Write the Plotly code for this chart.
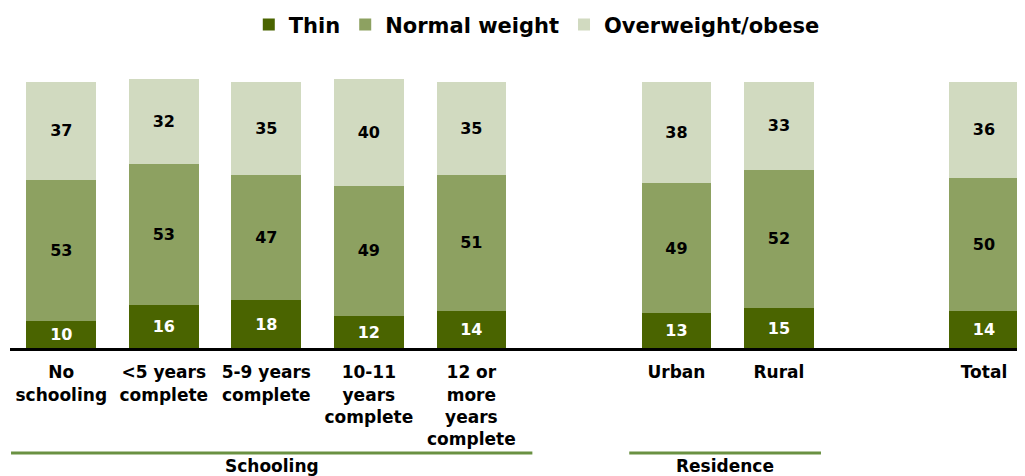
import plotly.graph_objects as go

# categories grouped as in the chart; an empty slot separates groups
groups = ["Schooling", "Residence", ""]
group_categories = [
    ["No<br>schooling", "<5 years<br>complete", "5-9 years<br>complete",
     "10-11<br>years<br>complete", "12 or<br>more<br>years<br>complete"],
    ["Urban", "Rural"],
    ["Total"],
]
thin = [10, 16, 18, 12, 14, 13, 15, 14]
normal = [53, 53, 47, 49, 51, 49, 52, 50]
overweight = [37, 32, 35, 40, 35, 38, 33, 36]

COLORS = {"Thin": "#4a6400", "Normal weight": "#8da161",
          "Overweight/obese": "#d1dac0"}
FONT = "DejaVu Sans, Arial, sans-serif"

# x positions: consecutive within a group, one blank slot between groups
xpos, labels, spans = [], [], []
pos = 0
for g, cats in zip(groups, group_categories):
    start = pos
    for c in cats:
        xpos.append(pos)
        labels.append(c)
        pos += 1
    spans.append((g, start, pos - 1))
    pos += 1

fig = go.Figure()
for name, vals, tcol in [("Thin", thin, "white"),
                         ("Normal weight", normal, "black"),
                         ("Overweight/obese", overweight, "black")]:
    fig.add_trace(go.Bar(
        x=xpos, y=vals, name=name, width=0.68,
        marker=dict(color=COLORS[name], line=dict(width=0)),
        text=vals, texttemplate="%{text}", textposition="inside",
        insidetextanchor="middle", constraintext="none",
        textfont=dict(family=FONT, size=16, color=tcol, weight="bold"),
        hoverinfo="skip"))

# group brackets under the tick labels (left / right overhang per group)
bracket_pad = {"Schooling": (0.49, 0.595), "Residence": (0.46, 0.41)}
line_y, text_y = -0.39, -0.437
for g, a, b in spans:
    if not g:
        continue
    pl, pr = bracket_pad[g]
    x0, x1 = a - pl, b + pr
    fig.add_shape(type="line", xref="x", yref="paper",
                  x0=x0, x1=x1, y0=line_y, y1=line_y,
                  line=dict(color="#6a9142", width=3))
    fig.add_annotation(xref="x", yref="paper", x=(x0 + x1) / 2,
                       y=text_y, text=g, showarrow=False, yanchor="middle",
                       font=dict(family=FONT, size=17, color="black", weight="bold"))

fig.update_layout(
    width=1017, height=468, barmode="stack",
    plot_bgcolor="white", paper_bgcolor="white",
    margin=dict(l=2, r=0, t=71, b=128),
    font=dict(family=FONT, color="black"),
    legend=dict(orientation="h", x=0.519, xanchor="center",
                yref="container", y=0.964, yanchor="middle",
                traceorder="normal",
                font=dict(family=FONT, size=21, weight="bold"),
                itemwidth=30),
    xaxis=dict(range=[-0.5, 9.4], tickvals=xpos, ticktext=labels,
               showline=True, linecolor="black", linewidth=3,
               showgrid=False, zeroline=False, ticks="", ticklabelstandoff=7,
               tickfont=dict(family=FONT, size=17, color="black", weight="bold")),
    yaxis=dict(range=[0, 101], visible=False),
    showlegend=True,
)

fig.write_html("out.html")
